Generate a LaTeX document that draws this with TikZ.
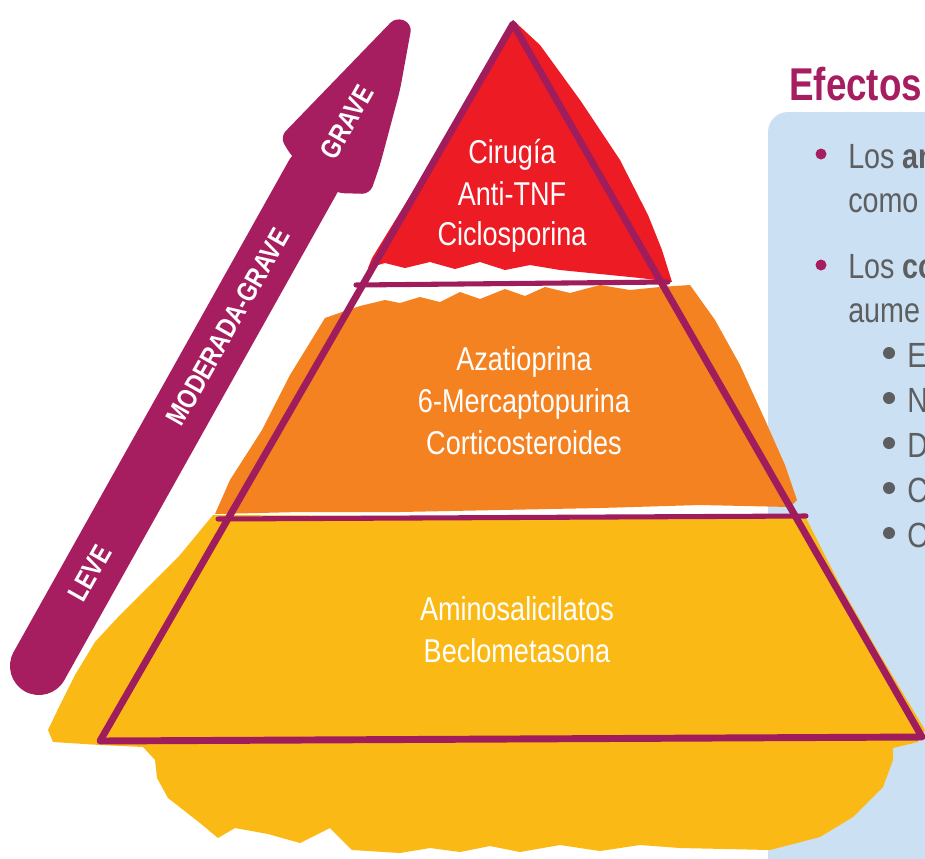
\documentclass[tikz,border=0pt]{standalone}
\usepackage{fontspec}
\setmainfont{Liberation Sans}[FakeStretch=0.82]
\newfontfamily\titlefont{Liberation Sans}[FakeStretch=0.80]
\definecolor{magentaA}{HTML}{A61E60}
\definecolor{outlineC}{HTML}{A01D5D}
\definecolor{redC}{HTML}{ED1C24}
\definecolor{orangeC}{HTML}{F58220}
\definecolor{yellowC}{HTML}{FBB915}
\definecolor{panelC}{HTML}{CCE0F3}
\definecolor{grayC}{HTML}{5D5E60}
\tikzset{
  pyrtext/.style={text=white, font=\fontsize{24.75}{30}\selectfont, anchor=base, inner sep=0pt},
  paneltext/.style={text=grayC, font=\fontsize{26.25}{31}\selectfont, anchor=base west, inner sep=0pt},
  arrowtext/.style={text=white, font=\bfseries\fontsize{20.8}{24}\selectfont, rotate=60.5, inner sep=0pt},
  outline/.style={draw=outlineC, line width=5.2pt, line join=round},
  divline/.style={draw=outlineC, line width=3.8pt, line cap=round},
}
\begin{document}
\begin{tikzpicture}[x=0.75pt,y=-0.75pt]
\useasboundingbox (0,0) rectangle (925,858);
\fill[white] (0,0) rectangle (925,858);
% light blue panel
\fill[panelC, rounded corners=15pt] (768,112) rectangle (990,920);
% yellow band
\fill[yellowC] (213,515) -- (180,555) -- (150,585) -- (120,615) -- (95,642) -- (75,675) -- (60,705) -- (48,730) -- (53,742) -- (100,745) -- (143,747) -- (155,760) -- (157,778) -- (168,798) -- (200,823) -- (218,838) -- (235,828) -- (268,834) -- (300,843) -- (330,828) -- (352,850) -- (400,853) -- (430,848) -- (460,852) -- (490,846) -- (520,852) -- (560,845) -- (600,851) -- (640,845) -- (680,848) -- (770,850) -- (820,837) -- (853,817) -- (883,787) -- (893,760) -- (893,748) -- (918,742) -- (925,730) -- (880,655) -- (840,585) -- (806,518) -- cycle;
% orange band
\fill[orangeC] (325,318) -- (345,311) -- (360,306) -- (385,300) -- (400,303) -- (420,297) -- (440,302) -- (460,292) -- (480,299) -- (505,289) -- (525,296) -- (545,287) -- (570,293) -- (600,285) -- (630,290) -- (660,287) -- (690,285) -- (715,320) -- (740,365) -- (765,420) -- (785,465) -- (797,500) -- (790,507) -- (700,505) -- (600,508) -- (500,510) -- (400,512) -- (300,512) -- (215,514) -- (230,480) -- (262,430) -- (290,375) -- cycle;
% red band
\fill[redC] (513,20) -- (540,45) -- (580,100) -- (620,160) -- (648,215) -- (662,250) -- (672,282) -- (640,278) -- (600,274) -- (560,270) -- (530,265) -- (505,270) -- (480,262) -- (455,269) -- (430,262) -- (405,268) -- (385,263) -- (368,268) -- (372,258) -- (420,180) -- (470,95) -- cycle;
% pyramid outline and dividers
\draw[outline] (513,24) -- (922,737) -- (100,741) -- cycle;
\draw[divline] (356,285) -- (668,282);
\draw[divline] (218,519) -- (806,516);
% pyramid texts
\node[pyrtext] (r1) at (512,163) {Cirugía};
\node[pyrtext] (r2) at (512,205) {Anti-TNF};
\node[pyrtext] (r3) at (512,245) {Ciclosporina};
\node[pyrtext] (o1) at (524,370) {Azatioprina};
\node[pyrtext] (o2) at (524,412) {6-Mercaptopurina};
\node[pyrtext] (o3) at (524,454) {Corticosteroides};
\node[pyrtext] (y1) at (517,620) {Aminosalicilatos};
\node[pyrtext] (y2) at (517,662) {Beclometasona};
% severity arrow
\draw[magentaA, line width=43.5pt, line cap=round] (39,666) -- (314,175);
\fill[magentaA, rounded corners=6pt] (396,17) -- (412,24) -- (400,90) -- (380,165) -- (370,194) -- (336,193) -- (292,157) -- (280,137) -- cycle;
\node[arrowtext] (leve) at (90,573) {LEVE};
\node[arrowtext] (mod) at (228,327) {MODERADA-GRAVE};
\node[arrowtext] (grave) at (347,122) {GRAVE};
% right panel
\node[anchor=base west, inner sep=0pt, text=magentaA, font=\titlefont\bfseries\fontsize{34.5}{40}\selectfont] (title) at (789,100) {Efectos};
\fill[magentaA] (821,154) circle (5.5);
\fill[magentaA] (821,265) circle (5.5);
\node[paneltext] (b1a) at (848,168) {Los \textbf{an}};
\node[paneltext] (b1b) at (848,212) {como};
\node[paneltext] (b2a) at (848,278) {Los \textbf{co}};
\node[paneltext] (b2b) at (848,322) {aume};
\foreach \yy/\tt/\nm in {353/E/s1, 398/N/s2, 443/D/s3, 488/C/s4, 533/O/s5} {
  \fill[grayC] (889,\yy) circle (6);
  \node[paneltext] (\nm) at (907,\yy+14) {\tt};
}
\end{tikzpicture}
\end{document}
